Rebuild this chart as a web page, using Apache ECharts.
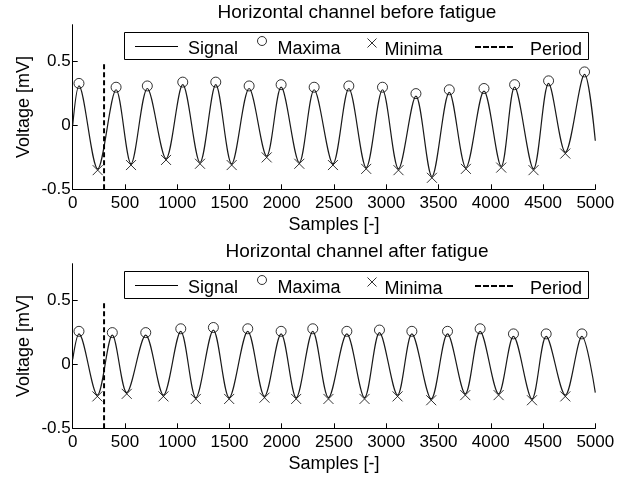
<!DOCTYPE html>
<html><head><meta charset="utf-8">
<script src="https://cdn.jsdelivr.net/npm/echarts@6/dist/echarts.min.js"></script>
<style>html,body{margin:0;padding:0;background:#fff}#c{width:623px;height:478px}</style>
</head><body><div id="c"></div>
<script>
// ---- data ----
const titles = ['Horizontal channel before fatigue', 'Horizontal channel after fatigue'];
const xTickInterval = 500;
const yTickValues = [-0.5, 0, 0.5];

// Top: before fatigue
const sigTopX = [0, 60, 239, 415, 558, 714, 893, 1053, 1218, 1369, 1521, 1688, 1856, 1994, 2168, 2310, 2490, 2642, 2808, 2964, 3117, 3284, 3437, 3603, 3762, 3935, 4100, 4228, 4409, 4553, 4713, 4897, 5000];
const sigTopY = [0.00, 0.31, -0.34, 0.28, -0.30, 0.29, -0.26, 0.32, -0.29, 0.32, -0.30, 0.29, -0.24, 0.30, -0.29, 0.28, -0.30, 0.29, -0.33, 0.28, -0.34, 0.23, -0.40, 0.26, -0.33, 0.27, -0.32, 0.30, -0.34, 0.33, -0.21, 0.40, -0.12];
const maxTopX = [60, 415, 714, 1053, 1369, 1688, 1994, 2310, 2642, 2964, 3284, 3603, 3935, 4228, 4553, 4897];
const maxTopY = [0.33, 0.30, 0.31, 0.34, 0.34, 0.31, 0.32, 0.30, 0.31, 0.30, 0.25, 0.28, 0.29, 0.32, 0.35, 0.42];
const minTopX = [239, 558, 893, 1218, 1521, 1856, 2168, 2490, 2808, 3117, 3437, 3762, 4100, 4409, 4713];
const minTopY = [-0.35, -0.31, -0.27, -0.30, -0.31, -0.25, -0.30, -0.31, -0.34, -0.35, -0.41, -0.34, -0.33, -0.35, -0.22];
const periodTop = 300;

// Bottom: after fatigue
const sigBotX = [0, 60, 236, 379, 517, 699, 868, 1034, 1178, 1346, 1497, 1675, 1835, 1994, 2138, 2297, 2447, 2623, 2792, 2935, 3108, 3245, 3430, 3586, 3756, 3898, 4075, 4217, 4394, 4530, 4713, 4872, 5000];
const sigBotY = [0.04, 0.24, -0.24, 0.23, -0.22, 0.23, -0.24, 0.26, -0.26, 0.27, -0.26, 0.26, -0.25, 0.24, -0.26, 0.26, -0.26, 0.24, -0.26, 0.25, -0.24, 0.24, -0.27, 0.24, -0.23, 0.26, -0.23, 0.22, -0.27, 0.22, -0.24, 0.22, -0.22];
const maxBotX = [60, 379, 699, 1034, 1346, 1675, 1994, 2297, 2623, 2935, 3245, 3586, 3898, 4217, 4530, 4872];
const maxBotY = [0.26, 0.25, 0.25, 0.28, 0.29, 0.28, 0.26, 0.28, 0.26, 0.27, 0.26, 0.26, 0.28, 0.24, 0.24, 0.24];
const minBotX = [236, 517, 868, 1178, 1497, 1835, 2138, 2447, 2792, 3108, 3430, 3756, 4075, 4394, 4713];
const minBotY = [-0.25, -0.23, -0.25, -0.27, -0.27, -0.26, -0.27, -0.27, -0.27, -0.25, -0.28, -0.24, -0.24, -0.28, -0.25];
const periodBot = 300;

// ---- chart ----
const FONT = '"Liberation Sans", Arial, sans-serif';
const zip = (xs, ys) => xs.map((x, i) => [x, ys[i]]);
const CROSS = 'path://M0,0L10,10M10,0L0,10';
// legend icons (extra move-to points only pad the icon box so the glyph sits where MATLAB puts it)
const ICON_LINE = 'path://M0,-10M0,0h43v1h-43zM48,16';
const ICON_CIRCLE = 'path://M0,4.5A4.5,4.5,0,1,1,9,4.5A4.5,4.5,0,1,1,0,4.5ZM15,26';
const ICON_CROSS = 'path://M0,0L9,9M9,0L0,9M12,24';
const ICON_DASH = 'path://M0,-10M0,0h6v2h-6zM8,0h6v2h-6zM16,0h6v2h-6zM24,0h6v2h-6zM32,0h6v2h-6zM50,19';

const gridTops = [24.7, 263.7];
const H = 164.6;

function axesFor(i) {
  return {
    x: {
      type: 'value', gridIndex: i, min: 0, max: 5000, interval: xTickInterval,
      name: 'Samples [-]', nameLocation: 'middle', nameGap: 27,
      nameTextStyle: { fontSize: 18, fontFamily: FONT, color: '#000' },
      axisLine: { onZero: false, lineStyle: { color: '#000', width: 1 } },
      axisTick: { inside: true, length: 5, lineStyle: { color: '#000' } },
      axisLabel: { fontSize: 17, fontFamily: FONT, color: '#000', margin: 6, formatter: v => String(v) },
      splitLine: { show: false }
    },
    y: {
      type: 'value', gridIndex: i, min: -0.5, max: 0.79,
      name: 'Voltage [mV]', nameLocation: 'middle', nameGap: 40, nameRotate: 90, nameMoveOverlap: false,
      nameTextStyle: { fontSize: 18, fontFamily: FONT, color: '#000' },
      axisLine: { show: true, onZero: false, lineStyle: { color: '#000', width: 1 } },
      axisTick: { show: true, inside: true, length: 5, lineStyle: { color: '#000' }, customValues: yTickValues },
      axisLabel: { fontSize: 17, fontFamily: FONT, color: '#000', margin: 2, padding: [6, 0, 0, 0], customValues: yTickValues,
        formatter: v => String(v) },
      splitLine: { show: false }
    }
  };
}
const a0 = axesFor(0), a1 = axesFor(1);

function seriesFor(i, sx, sy, mx, my, nx, ny, p) {
  return [
    { name: 'Signal', type: 'line', xAxisIndex: i, yAxisIndex: i, data: zip(sx, sy), smooth: 0.32,
      symbol: 'none', color: '#000', lineStyle: { color: '#1a1a1a', width: 1.2 }, z: 2 },
    { name: 'Maxima', type: 'scatter', xAxisIndex: i, yAxisIndex: i, data: zip(mx, my), symbol: 'circle', symbolSize: 10,
      itemStyle: { color: 'transparent', borderColor: '#000', borderWidth: 1 }, z: 3 },
    { name: 'Minima', type: 'scatter', xAxisIndex: i, yAxisIndex: i, data: zip(nx, ny), symbol: CROSS, symbolSize: 10,
      itemStyle: { color: 'none', borderColor: '#000', borderWidth: 1 }, z: 3 },
    { name: 'Period', type: 'line', xAxisIndex: i, yAxisIndex: i, data: [[p, -0.5], [p, 0.5]], symbol: 'none',
      color: '#000', lineStyle: { color: '#000', width: 2, type: [5, 3] }, z: 4 }
  ];
}

function legendsFor(dy) {
  const ts = { fontSize: 18, fontFamily: FONT, color: '#000' };
  const top = 36 + dy;
  const base = { orient: 'horizontal', padding: 0, selectedMode: false, z: 6, textStyle: ts, symbolKeepAspect: true, top: top };
  return [
    Object.assign({}, base, { left: 135, itemWidth: 48, itemHeight: 26,
      data: [{ name: 'Signal', icon: ICON_LINE, itemStyle: { color: '#000', borderWidth: 0 } }] }),
    Object.assign({}, base, { left: 257, itemWidth: 15, itemHeight: 26,
      data: [{ name: 'Maxima', icon: ICON_CIRCLE, itemStyle: { color: 'transparent', borderColor: '#000', borderWidth: 1 } }] }),
    Object.assign({}, base, { left: 365, itemWidth: 12, itemHeight: 24,
      data: [{ name: 'Minima', icon: ICON_CROSS, itemStyle: { color: 'none', borderColor: '#000', borderWidth: 1 } }] }),
    Object.assign({}, base, { left: 475, itemWidth: 50, itemHeight: 29,
      data: [{ name: 'Period', icon: ICON_DASH, itemStyle: { color: '#000', borderWidth: 0 } }] })
  ];
}

function boxAndTitle(dy, t) {
  return [
    { type: 'rect', z: 5, shape: { x: 124.5, y: 32.5 + dy, width: 464, height: 27 },
      style: { fill: '#fff', stroke: '#000', lineWidth: 1 } },
    { type: 'text', z: 5, x: 357, y: 12.5 + dy,
      style: { text: t, fontSize: 19, fontFamily: FONT, fill: '#000', align: 'center', verticalAlign: 'middle' } }
  ];
}

const chart = echarts.init(document.getElementById('c'), null, { renderer: 'canvas' });
chart.setOption({
  animation: false,
  backgroundColor: '#fff',
  grid: [
    { left: 72.7, right: 27.7, top: gridTops[0], height: H, containLabel: false },
    { left: 72.7, right: 27.7, top: gridTops[1], height: H, containLabel: false }
  ],
  xAxis: [a0.x, a1.x],
  yAxis: [a0.y, a1.y],
  legend: legendsFor(0).concat(legendsFor(239)),
  graphic: boxAndTitle(0, titles[0]).concat(boxAndTitle(239, titles[1])),
  series: seriesFor(0, sigTopX, sigTopY, maxTopX, maxTopY, minTopX, minTopY, periodTop)
    .concat(seriesFor(1, sigBotX, sigBotY, maxBotX, maxBotY, minBotX, minBotY, periodBot))
});
</script></body></html>
